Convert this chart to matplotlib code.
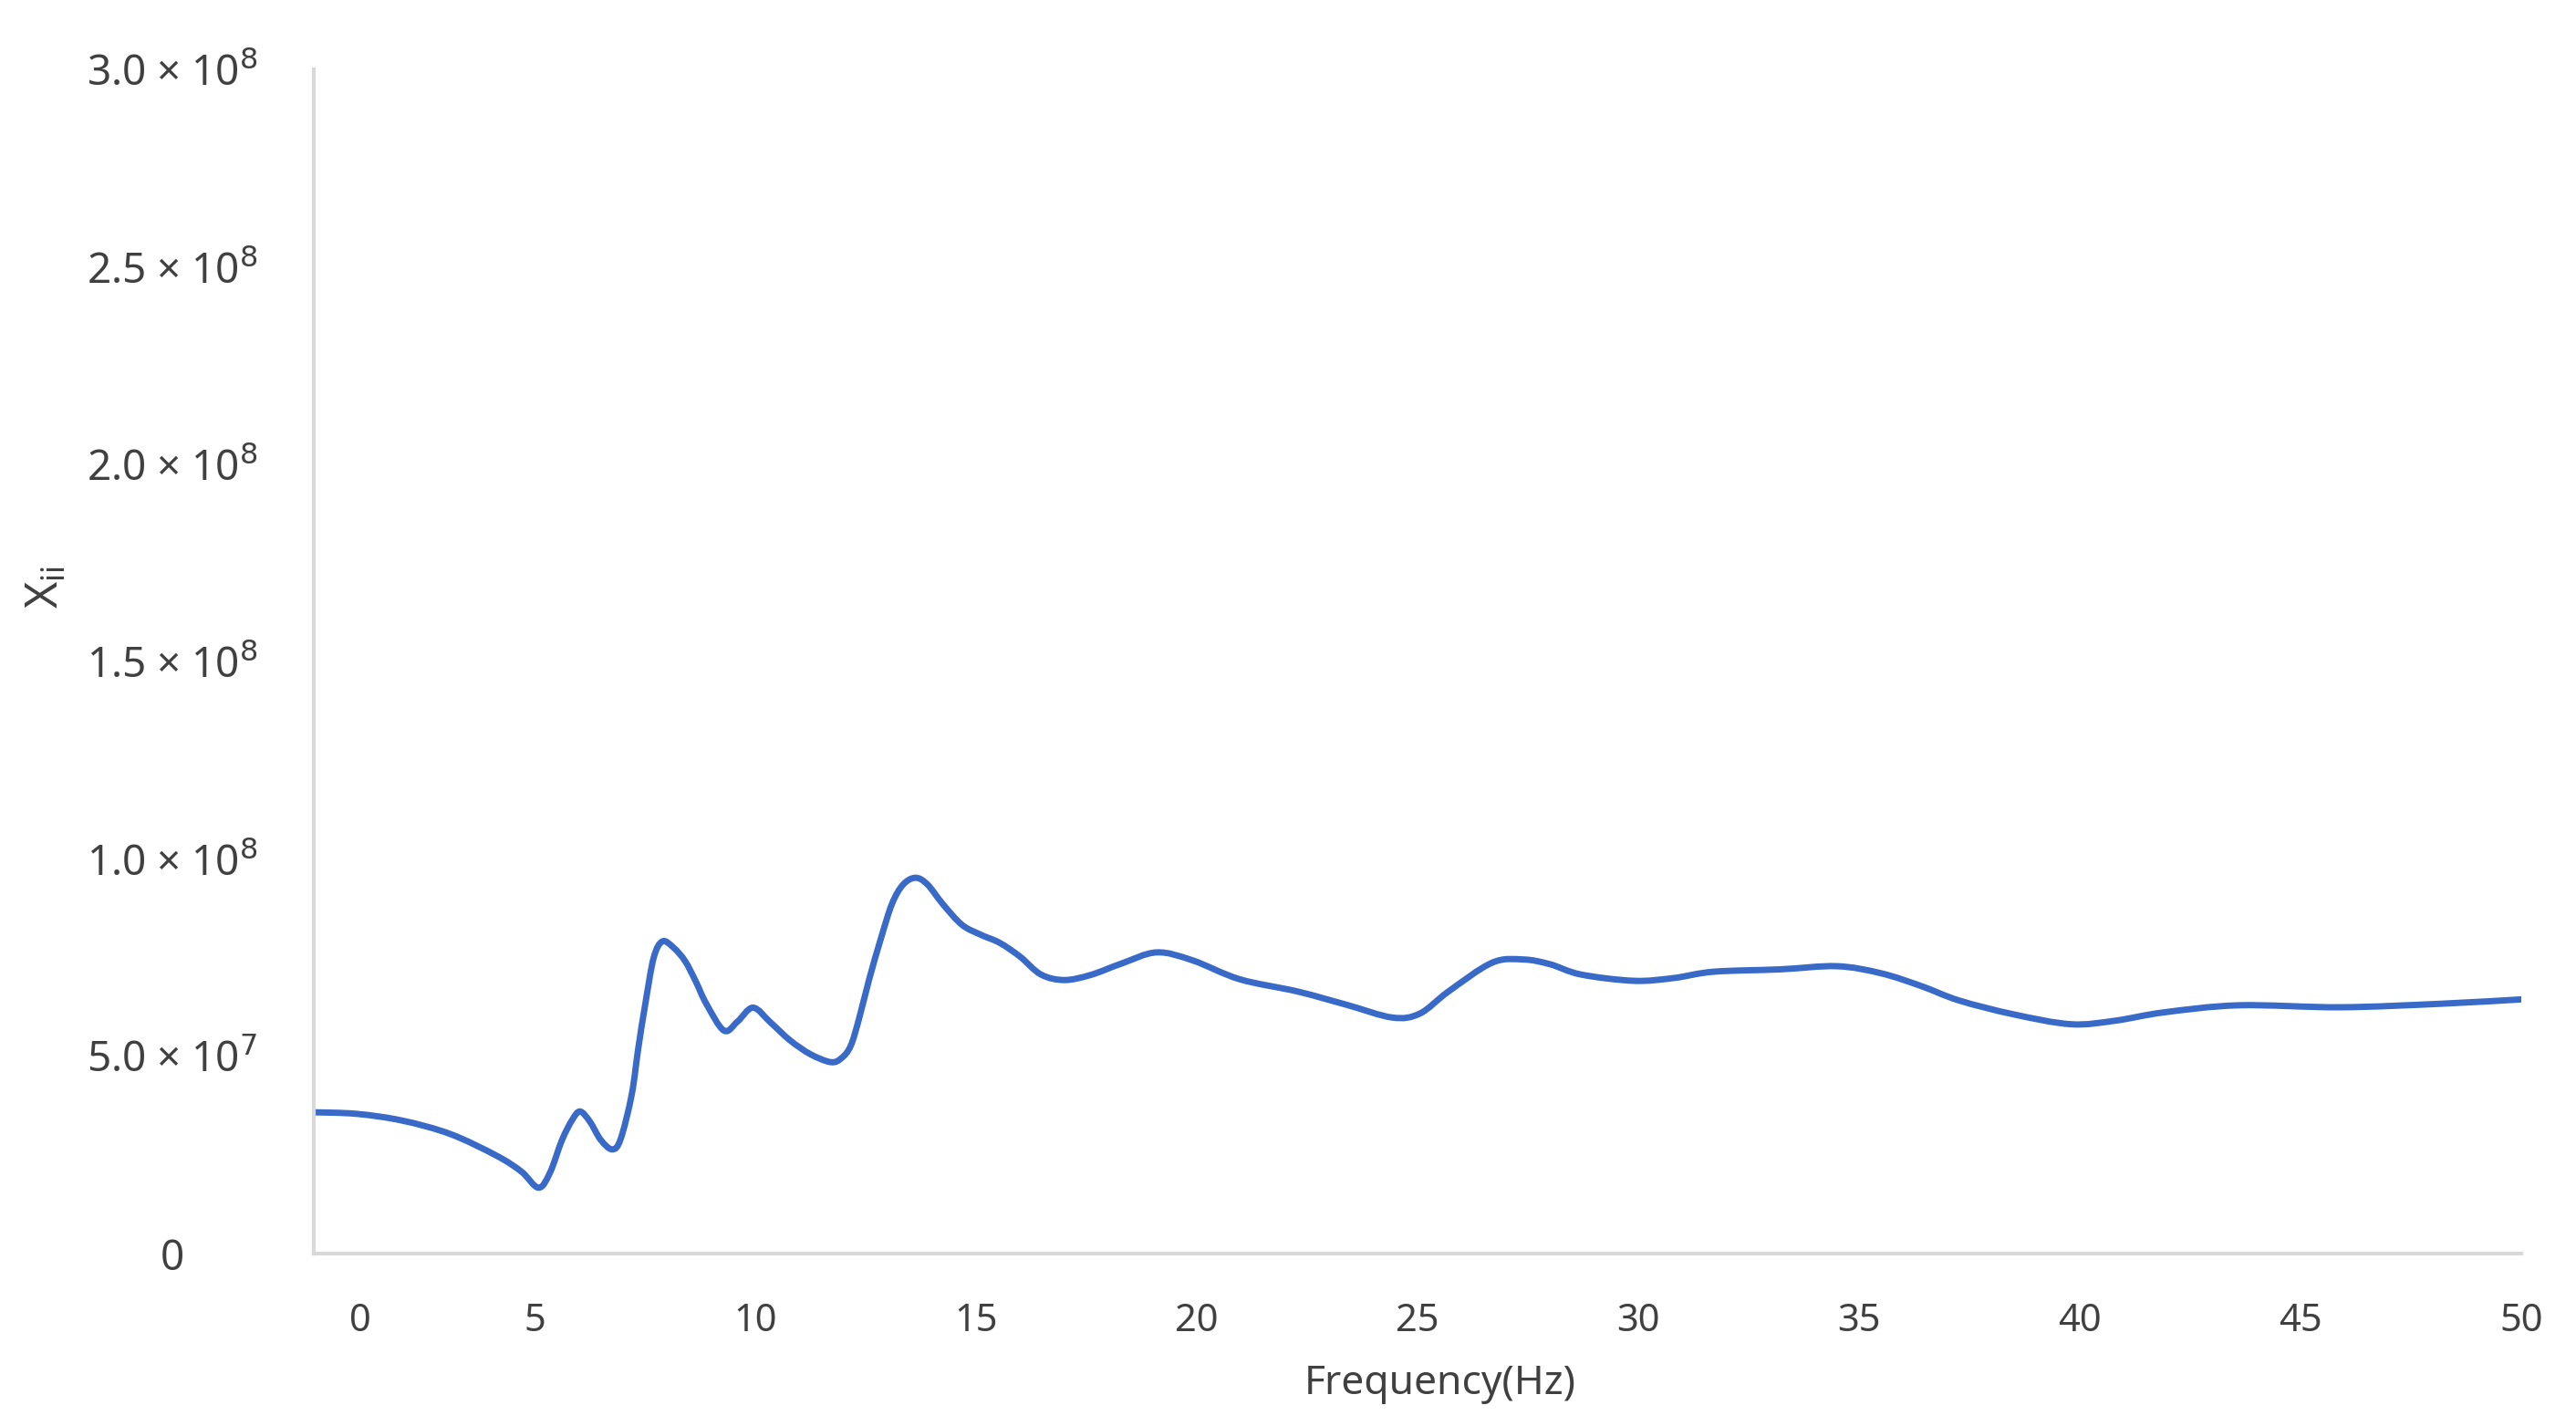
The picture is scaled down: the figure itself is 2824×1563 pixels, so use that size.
import matplotlib
matplotlib.use('Agg')
import matplotlib.pyplot as plt
import matplotlib.transforms as mtransforms
from matplotlib.path import Path
from matplotlib.patches import PathPatch
import numpy as np

plt.rcParams['font.family'] = ['Noto Sans', 'DejaVu Sans']

''' Values read off the curve: frequency (Hz) and X_ii (units of 1e6) '''
freq = [0.0, 0.97, 2.0, 3.09, 4.14, 4.7, 5.09, 5.35, 5.62, 5.85, 6.03, 6.25,
        6.5, 6.76, 6.95, 7.2, 7.35, 7.51, 7.7, 7.9, 8.15, 8.41, 8.65, 8.89,
        9.29, 9.6, 9.95, 10.35, 10.79, 11.25, 11.71, 11.95, 12.16, 12.35, 12.58,
        12.85, 13.1, 13.35, 13.63, 13.9, 14.25, 14.68, 15.1, 15.54, 16.0, 16.47,
        17.0, 17.6, 18.3, 19.09, 19.9, 20.97, 22.28, 23.4, 24.43, 25.05, 25.7,
        26.69, 27.4, 28.0, 28.7, 29.9, 30.8, 31.7, 33.2, 34.5, 35.5, 36.4,
        37.27, 38.5, 39.8, 40.8, 41.9, 43.6, 45.9, 48.2, 50.0]
xii = [35.8, 35.4, 33.7, 30.3, 24.8, 20.8, 16.7, 20.5, 28.7, 33.8, 36.0, 33.5,
       28.8, 26.4, 29.0, 40.2, 52.0, 63.3, 75.0, 79.1, 77.5, 74.1, 69.0, 63.3,
       56.5, 58.8, 62.3, 58.5, 54.0, 50.5, 48.5, 49.5, 52.6, 59.5, 69.5,
       80.0, 88.7, 93.5, 95.2, 93.5, 88.5, 83.3, 80.8, 78.7, 75.2, 70.7,
       69.3, 70.6, 73.5, 76.3, 74.3, 69.5, 66.4, 63.0, 59.8, 60.8, 66.4,
       73.7, 74.5, 73.3, 70.7, 69.1, 69.8, 71.4, 72.0, 72.8, 71.0, 67.8,
       64.1, 60.6, 58.1, 59.0, 61.1, 62.9, 62.4, 63.3, 64.4]

x_ticks = [0, 5, 10, 15, 20, 25, 30, 35, 40, 45, 50]
y_ticks = [0, 5e7, 1e8, 1.5e8, 2e8, 2.5e8, 3e8]
y_tick_labels = ['0', '5.0 \u00d7 10$^{7}$', '1.0 \u00d7 10$^{8}$',
                 '1.5 \u00d7 10$^{8}$', '2.0 \u00d7 10$^{8}$',
                 '2.5 \u00d7 10$^{8}$', '3.0 \u00d7 10$^{8}$']

text_color = '#404040'
axis_color = '#D9D9D9'
line_color = '#3A6AC8'

fig = plt.figure(figsize=(28.24, 15.63), dpi=100)
ax = fig.add_axes([0.1218, 0.1209, 0.857, 0.8305])

''' Smoothed line through the read points (Catmull-Rom as cubic Bezier) '''
px = np.array(freq)
py = np.array(xii) * 1e6
verts = [(px[0], py[0])]
codes = [Path.MOVETO]
for i in range(len(px) - 1):
    i0 = max(i - 1, 0)
    i3 = min(i + 2, len(px) - 1)
    c1 = (px[i] + (px[i + 1] - px[i0]) / 6, py[i] + (py[i + 1] - py[i0]) / 6)
    c2 = (px[i + 1] - (px[i3] - px[i]) / 6, py[i + 1] - (py[i3] - py[i]) / 6)
    verts += [c1, c2, (px[i + 1], py[i + 1])]
    codes += [Path.CURVE4, Path.CURVE4, Path.CURVE4]
ax.add_patch(PathPatch(Path(verts, codes), facecolor='none',
                       edgecolor=line_color, lw=5, capstyle='butt'))

''' Axes '''
ax.set_xlim(0, 50)
ax.set_ylim(0, 3e8)
ax.set_xticks(x_ticks)
ax.set_yticks(y_ticks)
ax.set_yticklabels(y_tick_labels)

for side in ['top', 'right']:
    ax.spines[side].set_visible(False)
for side in ['left', 'bottom']:
    ax.spines[side].set_color(axis_color)
    ax.spines[side].set_linewidth(3)

ax.tick_params(axis='both', length=0, labelcolor=text_color)
ax.tick_params(axis='x', pad=38, labelsize=30)
ax.tick_params(axis='y', pad=112, labelsize=33)
for lbl in ax.get_yticklabels():
    lbl.set_horizontalalignment('center')

''' The "0" label on x sits a bit to the right of the axis start '''
first = ax.get_xticklabels()[0]
first.set_transform(first.get_transform() +
                    mtransforms.ScaledTranslation(0.51, 0, fig.dpi_scale_trans))

''' Axis titles '''
fig.text(1579 / 2824, 1 - 1517 / 1563, 'Frequency(Hz)', fontsize=32,
         color=text_color, ha='center', va='center')
fig.text(51 / 2824, 1 - 643 / 1563, r'$\mathregular{X_{ii}}$', fontsize=36,
         color=text_color, ha='center', va='center', rotation=90)

fig.savefig('out.png', dpi=100)
